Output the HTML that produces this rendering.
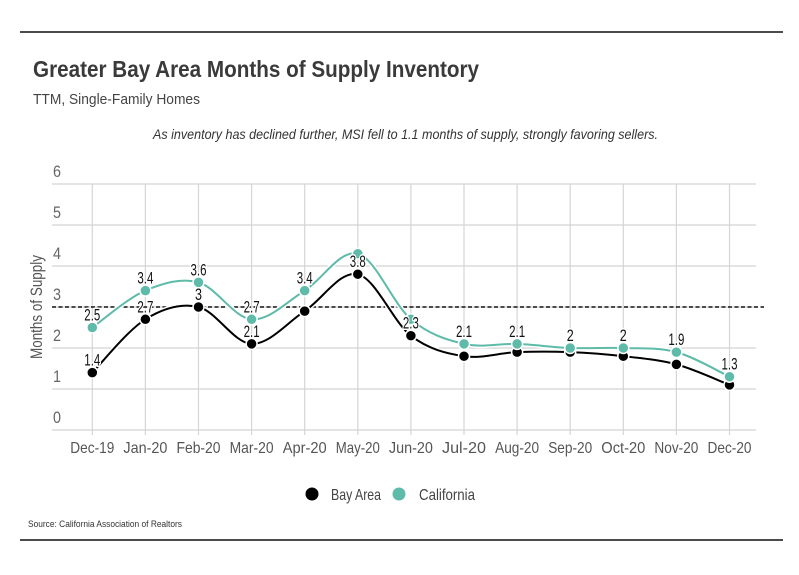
<!DOCTYPE html>
<html><head><meta charset="utf-8"><style>
html,body{margin:0;padding:0;background:#fff;}
svg{display:block;font-family:"Liberation Sans Narrow","Liberation Sans",sans-serif;}
</style></head><body>
<svg id="chart" width="799" height="575" viewBox="0 0 799 575" xmlns="http://www.w3.org/2000/svg">
<line x1="20" y1="32" x2="783" y2="32" stroke="#111" stroke-width="1.5"/>
<line x1="20" y1="540" x2="783" y2="540" stroke="#111" stroke-width="1.5"/>
<text x="33" y="77" font-size="23" font-weight="bold" fill="#3a3a3a" textLength="446" lengthAdjust="spacingAndGlyphs">Greater Bay Area Months of Supply Inventory</text>
<text x="33" y="104" font-size="15" fill="#444" textLength="167" lengthAdjust="spacingAndGlyphs">TTM, Single-Family Homes</text>
<text x="153" y="139" font-size="14" font-style="italic" fill="#333" textLength="505" lengthAdjust="spacingAndGlyphs">As inventory has declined further, MSI fell to 1.1 months of supply, strongly favoring sellers.</text>
<g id="grid"></g>
<g id="axes"></g>
<g id="series"></g>
<text transform="translate(42,307) rotate(-90)" text-anchor="middle" font-size="17" fill="#555" textLength="104" lengthAdjust="spacingAndGlyphs">Months of Supply</text>
<g>
<g><circle cx="312" cy="494" r="6.5" fill="#000"/><text x="331" y="500" font-size="16" fill="#444" textLength="50" lengthAdjust="spacingAndGlyphs">Bay Area</text></g>
<g><circle cx="399" cy="494" r="6.5" fill="#5ebbaa"/><text x="419" y="500" font-size="16" fill="#444" textLength="56" lengthAdjust="spacingAndGlyphs">California</text></g>
</g>
<text x="28" y="527" font-size="9" fill="#333" textLength="154" lengthAdjust="spacingAndGlyphs">Source:  California Association of Realtors</text>
</svg>
<script>
const categories=["Dec-19","Jan-20","Feb-20","Mar-20","Apr-20","May-20","Jun-20","Jul-20","Aug-20","Sep-20","Oct-20","Nov-20","Dec-20"];
const bayArea=[1.4,2.7,3.0,2.1,2.9,3.8,2.3,1.8,1.9,1.9,1.8,1.6,1.1];
const california=[2.5,3.4,3.6,2.7,3.4,4.3,2.7,2.1,2.1,2.0,2.0,1.9,1.3];
const bayLabelShown=[true,true,true,true,false,true,true,false,false,false,false,false,false];
const caLabelShown=[true,true,true,true,true,false,false,true,true,true,true,true,true];
const yTicks=[0,1,2,3,4,5,6];
const referenceValue=3;
const NS="http://www.w3.org/2000/svg";
const x0=92.3,dx=53.1,yBase=430,yUnit=41,plotL=52,plotR=756;
function xs(i){return x0+i*dx;}
function ys(v){return yBase-v*yUnit;}
function mk(tag,attrs,parent){const e=document.createElementNS(NS,tag);for(const k in attrs)e.setAttribute(k,attrs[k]);parent.appendChild(e);return e;}
const grid=document.getElementById('grid'),axes=document.getElementById('axes'),series=document.getElementById('series');
yTicks.forEach(t=>{
  const l=mk('line',{x1:plotL,x2:plotR,y1:ys(t),y2:ys(t),stroke:'#c8c8c8','stroke-width':1},grid);
  
  
  const tx=mk('text',{x:plotL+1,y:ys(t)-7,'font-size':17,fill:'#666',textLength:8,lengthAdjust:'spacingAndGlyphs'},axes);
  tx.textContent=t;
  
  
});
categories.forEach((c,i)=>{
  const l=mk('line',{x1:xs(i),x2:xs(i),y1:ys(6),y2:ys(0)+5,stroke:'#d6d6d6','stroke-width':1.2},grid);
  
  
  const tx=mk('text',{x:xs(i),y:ys(0)+23,'font-size':16,fill:'#555','text-anchor':'middle',textLength:44,lengthAdjust:'spacingAndGlyphs'},axes);
  tx.textContent=c;
  
  
});
const ref=mk('line',{x1:plotL,x2:plotR+8,y1:ys(referenceValue),y2:ys(referenceValue),stroke:'#111','stroke-width':1.6,'stroke-dasharray':'4,2.5'},grid);


function smooth(vals){
  const p=vals.map((v,i)=>[xs(i),ys(v)]);
  let d='M'+p[0][0]+','+p[0][1];
  for(let i=0;i<p.length-1;i++){
    const a=p[i-1]||p[i],b=p[i],c=p[i+1],e=p[i+2]||c;
    const c1=[b[0]+(c[0]-a[0])/6,b[1]+(c[1]-a[1])/6];
    const c2=[c[0]-(e[0]-b[0])/6,c[1]-(e[1]-b[1])/6];
    d+=' C'+c1[0]+','+c1[1]+' '+c2[0]+','+c2[1]+' '+c[0]+','+c[1];
  }
  return d;
}
function drawSeries(vals,color,name){
  const p=mk('path',{d:smooth(vals),fill:'none',stroke:'#fff','stroke-width':5},series);
  
  
  const l=mk('path',{d:smooth(vals),fill:'none',stroke:color,'stroke-width':2},series);
  
  
  vals.forEach((v,i)=>{
    const c=mk('circle',{cx:xs(i),cy:ys(v),r:5.5,fill:color,stroke:'#fff','stroke-width':1.5},series);
    
    
  });
}
drawSeries(bayArea,'#000','bay-area');
drawSeries(california,'#5ebbaa','california');
function label(v,i,name){
  const s=String(v);
  const t=mk('text',{x:xs(i),y:ys(v)-7,'font-size':17,fill:'#111','text-anchor':'middle',stroke:'#fff','stroke-width':3,'paint-order':'stroke',textLength:s.length>1?16:7,lengthAdjust:'spacingAndGlyphs'},series);
  t.textContent=s;
  
  
}
bayArea.forEach((v,i)=>{if(bayLabelShown[i])label(v,i,'bay-area');});
california.forEach((v,i)=>{if(caLabelShown[i])label(v,i,'california');});
</script>
</body></html>
